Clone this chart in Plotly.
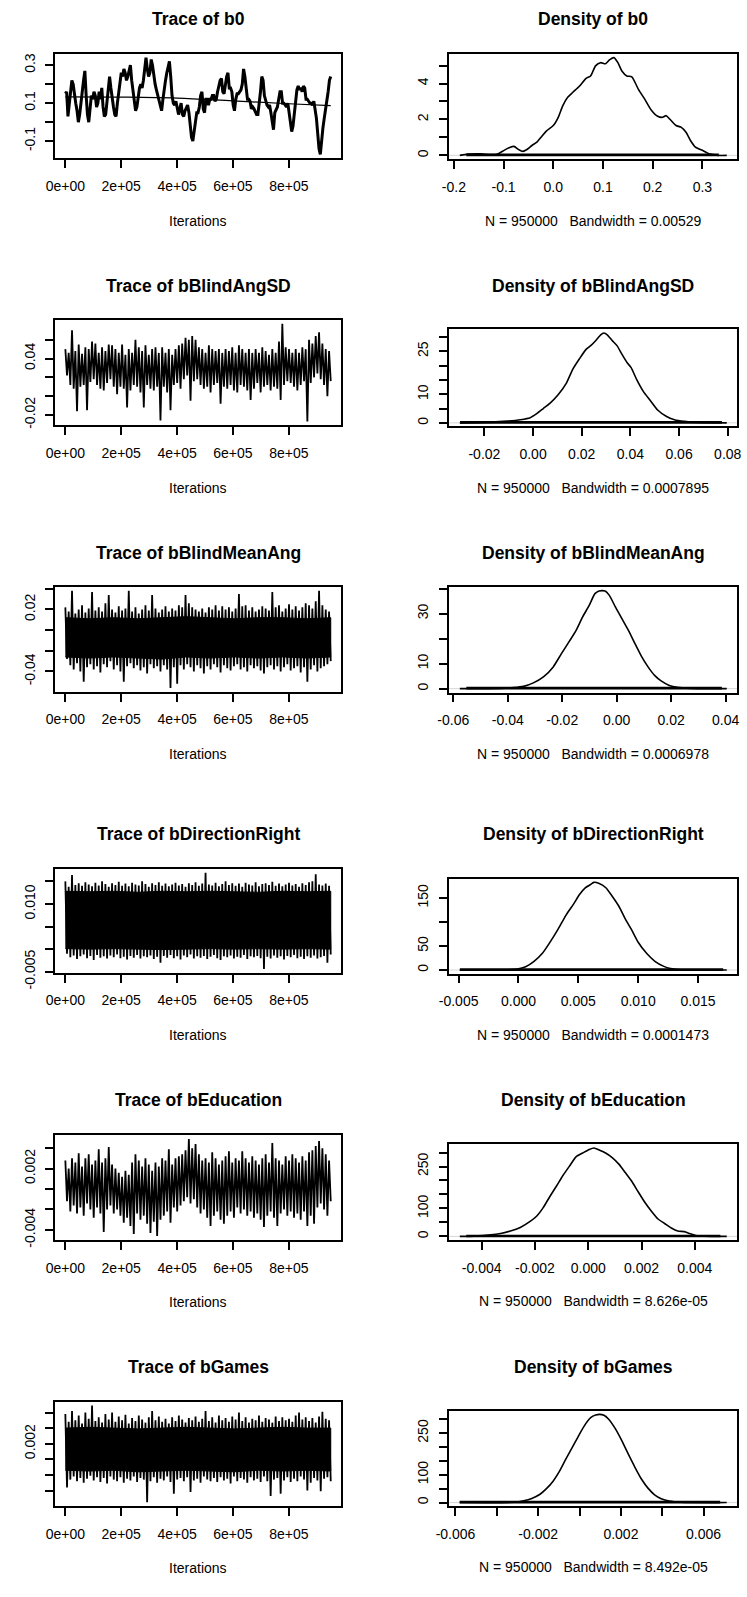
import numpy as np
import plotly.graph_objects as go

W, H = 747, 1597
N_ITER = 950000

params = ["b0", "bBlindAngSD", "bBlindMeanAng", "bDirectionRight", "bEducation", "bGames"]
bandwidths = ["0.00529", "0.0007895", "0.0006978", "0.0001473", "8.626e-05", "8.492e-05"]

# ---------------- trace data ----------------
b0_trace = [0.15, 0.16, 0.03, 0.10, 0.16, 0.22, 0.20, 0.14, 0.10, 0.06, 0.00, 0.04, 0.12, 0.16, 0.22, 0.27,
            0.14, 0.04, 0.00, 0.08, 0.14, 0.12, 0.16, 0.14, 0.08, 0.10, 0.16, 0.12, 0.18, 0.08, 0.03, 0.04,
            0.10, 0.18, 0.24, 0.18, 0.12, 0.08, 0.04, 0.03, 0.10, 0.16, 0.22, 0.26, 0.24, 0.28, 0.26, 0.22,
            0.24, 0.28, 0.30, 0.22, 0.16, 0.10, 0.06, 0.08, 0.14, 0.18, 0.20, 0.18, 0.22, 0.30, 0.34, 0.28,
            0.24, 0.26, 0.33, 0.30, 0.24, 0.20, 0.17, 0.14, 0.11, 0.08, 0.06, 0.12, 0.18, 0.22, 0.26, 0.30,
            0.32, 0.24, 0.14, 0.10, 0.09, 0.11, 0.08, 0.04, 0.07, 0.10, 0.04, 0.03, 0.06, 0.08, 0.09, 0.05,
            -0.02, -0.08, -0.10, -0.06, 0.00, 0.05, 0.05, 0.08, 0.14, 0.16, 0.07, 0.05, 0.12, 0.12, 0.09,
            0.12, 0.12, 0.14, 0.14, 0.11, 0.12, 0.16, 0.19, 0.22, 0.23, 0.16, 0.15, 0.20, 0.24, 0.26, 0.18,
            0.18, 0.16, 0.09, 0.06, 0.12, 0.15, 0.15, 0.16, 0.17, 0.20, 0.28, 0.24, 0.17, 0.12, 0.12, 0.11,
            0.07, 0.08, 0.07, 0.05, 0.04, 0.04, 0.09, 0.16, 0.24, 0.22, 0.14, 0.11, 0.09, 0.08, 0.09, 0.05,
            0.00, -0.04, 0.05, 0.07, 0.08, 0.12, 0.16, 0.16, 0.10, 0.10, 0.09, 0.08, 0.10, 0.05, -0.01,
            -0.05, -0.02, 0.05, 0.11, 0.17, 0.19, 0.17, 0.18, 0.16, 0.19, 0.18, 0.12, 0.12, 0.11, 0.10,
            0.10, 0.09, 0.11, 0.07, 0.02, -0.06, -0.14, -0.17, -0.09, -0.03, 0.02, 0.06, 0.10, 0.16, 0.22, 0.24]
b0_smooth_iter = [1, 200000, 400000, 600000, 800000, 950000]
b0_smooth = [0.133, 0.132, 0.127, 0.112, 0.097, 0.087]

sd_hi = [0.050, 0.046, 0.070, 0.048, 0.055, 0.045, 0.052, 0.050, 0.058, 0.056, 0.046, 0.052, 0.048, 0.055,
         0.054, 0.050, 0.046, 0.055, 0.044, 0.050, 0.046, 0.060, 0.052, 0.048, 0.054, 0.044, 0.050, 0.052,
         0.046, 0.052, 0.046, 0.050, 0.044, 0.050, 0.054, 0.056, 0.062, 0.060, 0.064, 0.060, 0.052, 0.050,
         0.046, 0.054, 0.050, 0.048, 0.050, 0.046, 0.050, 0.048, 0.052, 0.046, 0.054, 0.050, 0.046, 0.050,
         0.046, 0.050, 0.046, 0.052, 0.048, 0.044, 0.050, 0.046, 0.058, 0.077, 0.052, 0.050, 0.046, 0.050,
         0.046, 0.052, 0.050, 0.060, 0.056, 0.064, 0.068, 0.056, 0.050, 0.048]
sd_lo = [0.022, 0.012, 0.008, -0.016, 0.010, 0.012, -0.015, 0.015, 0.018, 0.012, 0.008, 0.006, 0.014, 0.018,
         0.010, 0.002, 0.010, 0.008, -0.012, 0.006, 0.012, 0.010, 0.004, -0.012, 0.012, 0.008, 0.006, 0.010,
         -0.026, 0.010, 0.004, -0.015, 0.012, 0.014, 0.008, 0.018, 0.022, -0.005, 0.016, 0.018, 0.012, 0.008,
         0.010, 0.004, 0.012, 0.014, -0.008, 0.010, 0.008, 0.012, 0.006, 0.004, 0.012, 0.010, 0.006, -0.004,
         0.008, 0.014, 0.004, 0.010, 0.012, 0.006, 0.010, 0.008, -0.004, 0.012, 0.016, 0.014, 0.010, 0.006,
         0.012, 0.016, -0.027, 0.014, 0.020, 0.024, 0.018, 0.012, 0.000, 0.016]

ma_hi = [0.022, 0.018, 0.038, 0.016, 0.020, 0.024, 0.017, 0.021, 0.037, 0.019, 0.022, 0.018, 0.026, 0.034,
         0.020, 0.017, 0.023, 0.019, 0.021, 0.038, 0.018, 0.022, 0.016, 0.020, 0.024, 0.019, 0.034, 0.021,
         0.017, 0.020, 0.023, 0.018, 0.021, 0.019, 0.024, 0.022, 0.034, 0.026, 0.022, 0.020, 0.018, 0.021,
         0.017, 0.022, 0.020, 0.024, 0.019, 0.023, 0.020, 0.022, 0.018, 0.021, 0.035, 0.023, 0.024, 0.019,
         0.022, 0.018, 0.020, 0.023, 0.021, 0.019, 0.037, 0.022, 0.024, 0.018, 0.021, 0.025, 0.020, 0.023,
         0.019, 0.022, 0.026, 0.024, 0.021, 0.028, 0.038, 0.024, 0.020, 0.018]
ma_lo = [-0.028, -0.034, -0.038, -0.032, -0.040, -0.050, -0.036, -0.033, -0.038, -0.035, -0.041, -0.033,
         -0.036, -0.030, -0.038, -0.034, -0.040, -0.050, -0.035, -0.032, -0.037, -0.034, -0.039, -0.036,
         -0.042, -0.033, -0.037, -0.035, -0.040, -0.034, -0.038, -0.056, -0.036, -0.052, -0.034, -0.038,
         -0.033, -0.036, -0.040, -0.034, -0.037, -0.042, -0.035, -0.038, -0.033, -0.036, -0.041, -0.034,
         -0.037, -0.039, -0.035, -0.033, -0.038, -0.036, -0.040, -0.034, -0.037, -0.035, -0.039, -0.042,
         -0.036, -0.034, -0.038, -0.035, -0.040, -0.036, -0.033, -0.039, -0.037, -0.035, -0.041, -0.036,
         -0.050, -0.038, -0.034, -0.040, -0.037, -0.035, -0.033, -0.030]
ma_core_hi = [0.012, 0.011, 0.012, 0.011, 0.012, 0.013, 0.012, 0.011, 0.012, 0.012, 0.011, 0.012]
ma_core_lo = [-0.026, -0.027, -0.026, -0.027, -0.028, -0.026, -0.027, -0.026, -0.027, -0.026, -0.027, -0.026]

dr_hi = [0.0150, 0.0138, 0.0164, 0.0142, 0.0146, 0.0140, 0.0148, 0.0143, 0.0139, 0.0147, 0.0141, 0.0150,
         0.0144, 0.0138, 0.0146, 0.0142, 0.0149, 0.0140, 0.0145, 0.0139, 0.0147, 0.0143, 0.0141, 0.0150,
         0.0144, 0.0138, 0.0146, 0.0142, 0.0148, 0.0140, 0.0145, 0.0139, 0.0143, 0.0147, 0.0141, 0.0144,
         0.0138, 0.0146, 0.0142, 0.0148, 0.0140, 0.0145, 0.0169, 0.0143, 0.0141, 0.0147, 0.0139, 0.0144,
         0.0150, 0.0142, 0.0146, 0.0140, 0.0145, 0.0138, 0.0147, 0.0143, 0.0141, 0.0148, 0.0139, 0.0144,
         0.0146, 0.0142, 0.0149, 0.0140, 0.0145, 0.0139, 0.0143, 0.0147, 0.0141, 0.0144, 0.0138, 0.0146,
         0.0142, 0.0148, 0.0150, 0.0166, 0.0143, 0.0141, 0.0145, 0.0140]
dr_lo = [-0.0010, -0.0018, -0.0014, -0.0022, -0.0016, -0.0012, -0.0020, -0.0015, -0.0024, -0.0013, -0.0019,
         -0.0016, -0.0021, -0.0014, -0.0018, -0.0012, -0.0020, -0.0017, -0.0023, -0.0015, -0.0019, -0.0013,
         -0.0021, -0.0016, -0.0018, -0.0014, -0.0022, -0.0017, -0.0030, -0.0015, -0.0019, -0.0013, -0.0020,
         -0.0016, -0.0023, -0.0014, -0.0018, -0.0012, -0.0021, -0.0016, -0.0019, -0.0015, -0.0022, -0.0017,
         -0.0013, -0.0020, -0.0024, -0.0016, -0.0018, -0.0014, -0.0021, -0.0017, -0.0019, -0.0013, -0.0022,
         -0.0016, -0.0018, -0.0015, -0.0020, -0.0044, -0.0017, -0.0021, -0.0014, -0.0019, -0.0016, -0.0023,
         -0.0015, -0.0018, -0.0013, -0.0020, -0.0017, -0.0022, -0.0016, -0.0019, -0.0014, -0.0021, -0.0018,
         -0.0015, -0.0030, -0.0012]
dr_core_hi = [0.0128, 0.0127, 0.0128, 0.0126, 0.0128, 0.0127, 0.0128, 0.0127, 0.0126, 0.0128, 0.0127, 0.0128]
dr_core_lo = [0.0001, 0.0000, 0.0001, 0.0000, -0.0001, 0.0000, 0.0001, 0.0000, 0.0001, 0.0000, 0.0001, 0.0000]

ed_hi = [0.0028, 0.0020, 0.0030, 0.0026, 0.0035, 0.0022, 0.0030, 0.0034, 0.0024, 0.0028, 0.0039, 0.0026,
         0.0030, 0.0041, 0.0024, 0.0020, 0.0016, 0.0012, 0.0018, 0.0014, 0.0026, 0.0034, 0.0028, 0.0022,
         0.0030, 0.0024, 0.0018, 0.0026, 0.0022, 0.0030, 0.0028, 0.0039, 0.0024, 0.0030, 0.0032, 0.0034,
         0.0038, 0.0049, 0.0040, 0.0044, 0.0034, 0.0028, 0.0030, 0.0026, 0.0036, 0.0030, 0.0024, 0.0028,
         0.0032, 0.0037, 0.0026, 0.0030, 0.0028, 0.0037, 0.0030, 0.0026, 0.0032, 0.0028, 0.0024, 0.0030,
         0.0034, 0.0026, 0.0045, 0.0030, 0.0028, 0.0024, 0.0032, 0.0028, 0.0034, 0.0030, 0.0026, 0.0032,
         0.0028, 0.0036, 0.0038, 0.0042, 0.0047, 0.0040, 0.0034, 0.0028]
ed_lo = [-0.0012, -0.0022, -0.0016, -0.0024, -0.0018, -0.0026, -0.0014, -0.0020, -0.0028, -0.0018, -0.0024,
         -0.0042, -0.0020, -0.0016, -0.0024, -0.0020, -0.0026, -0.0033, -0.0028, -0.0036, -0.0044, -0.0024,
         -0.0030, -0.0026, -0.0034, -0.0043, -0.0032, -0.0046, -0.0030, -0.0026, -0.0022, -0.0033, -0.0018,
         -0.0022, -0.0016, -0.0012, -0.0008, -0.0014, -0.0010, -0.0018, -0.0024, -0.0020, -0.0028, -0.0036,
         -0.0026, -0.0022, -0.0030, -0.0034, -0.0026, -0.0022, -0.0028, -0.0018, -0.0024, -0.0020, -0.0026,
         -0.0022, -0.0028, -0.0024, -0.0030, -0.0037, -0.0026, -0.0022, -0.0028, -0.0036, -0.0024, -0.0020,
         -0.0026, -0.0022, -0.0028, -0.0024, -0.0030, -0.0022, -0.0036, -0.0026, -0.0034, -0.0018, -0.0014,
         -0.0020, -0.0026, -0.0012]

ga_hi = [0.0058, 0.0048, 0.0062, 0.0050, 0.0056, 0.0046, 0.0060, 0.0052, 0.0069, 0.0049, 0.0054, 0.0047,
         0.0058, 0.0051, 0.0060, 0.0048, 0.0055, 0.0050, 0.0057, 0.0046, 0.0053, 0.0049, 0.0056, 0.0051,
         0.0047, 0.0054, 0.0062, 0.0050, 0.0055, 0.0048, 0.0052, 0.0046, 0.0054, 0.0049, 0.0056, 0.0051,
         0.0047, 0.0053, 0.0050, 0.0055, 0.0048, 0.0052, 0.0062, 0.0049, 0.0054, 0.0047, 0.0056, 0.0050,
         0.0053, 0.0048, 0.0055, 0.0051, 0.0060, 0.0049, 0.0054, 0.0047, 0.0052, 0.0050, 0.0056, 0.0048,
         0.0053, 0.0051, 0.0047, 0.0055, 0.0049, 0.0054, 0.0050, 0.0052, 0.0048, 0.0056, 0.0060, 0.0051,
         0.0054, 0.0049, 0.0053, 0.0047, 0.0055, 0.0061, 0.0052, 0.0050]
ga_lo = [-0.0036, -0.0026, -0.0022, -0.0028, -0.0024, -0.0030, -0.0025, -0.0021, -0.0027, -0.0023, -0.0029,
         -0.0024, -0.0031, -0.0022, -0.0026, -0.0028, -0.0023, -0.0030, -0.0025, -0.0027, -0.0022, -0.0029,
         -0.0024, -0.0026, -0.0055, -0.0028, -0.0023, -0.0030, -0.0025, -0.0027, -0.0022, -0.0029, -0.0044,
         -0.0026, -0.0024, -0.0028, -0.0023, -0.0042, -0.0027, -0.0025, -0.0030, -0.0022, -0.0026, -0.0028,
         -0.0024, -0.0029, -0.0023, -0.0027, -0.0025, -0.0031, -0.0022, -0.0028, -0.0024, -0.0026, -0.0030,
         -0.0023, -0.0027, -0.0025, -0.0029, -0.0022, -0.0028, -0.0047, -0.0026, -0.0024, -0.0044, -0.0027,
         -0.0023, -0.0029, -0.0025, -0.0028, -0.0022, -0.0026, -0.0040, -0.0030, -0.0024, -0.0027, -0.0041,
         -0.0025, -0.0023, -0.0028]
ga_core_hi = [0.0040, 0.0041, 0.0040, 0.0039, 0.0040, 0.0041, 0.0040, 0.0039, 0.0040, 0.0041, 0.0040, 0.0040]
ga_core_lo = [-0.0014, -0.0015, -0.0014, -0.0016, -0.0015, -0.0014, -0.0015, -0.0016, -0.0014, -0.0015, -0.0014, -0.0015]

# ---------------- density data ----------------
d1_x = [-0.188, -0.172, -0.145, -0.126, -0.112, -0.099, -0.089, -0.079, -0.070, -0.061, -0.053, -0.043, -0.033,
        -0.023, -0.014, 0.000, 0.010, 0.019, 0.029, 0.039, 0.052, 0.066, 0.075, 0.085, 0.095, 0.105, 0.113,
        0.122, 0.130, 0.138, 0.148, 0.158, 0.171, 0.184, 0.197, 0.210, 0.220, 0.227, 0.237, 0.247, 0.257,
        0.267, 0.276, 0.286, 0.300, 0.313, 0.323, 0.332, 0.349]
d1_y = [0.0, 0.07, 0.09, 0.04, 0.07, 0.28, 0.42, 0.50, 0.33, 0.22, 0.33, 0.55, 0.74, 1.07, 1.35, 1.66, 2.12,
        2.76, 3.23, 3.50, 3.83, 4.29, 4.42, 4.98, 5.16, 5.10, 5.31, 5.44, 5.16, 4.70, 4.42, 4.37, 3.69, 3.13,
        2.53, 2.18, 2.12, 2.21, 1.94, 1.66, 1.57, 1.29, 0.83, 0.46, 0.28, 0.09, 0.04, 0.0, 0.0]
d2_x = [-0.0301, -0.0200, -0.0106, -0.0052, -0.0012, 0.0015, 0.0042, 0.0069, 0.0103, 0.0137, 0.0163, 0.0190,
        0.0217, 0.0237, 0.0258, 0.0278, 0.0291, 0.0305, 0.0325, 0.0345, 0.0365, 0.0386, 0.0403, 0.0426, 0.0453,
        0.0480, 0.0513, 0.0547, 0.0581, 0.0621, 0.0675, 0.0796]
d2_y = [0.0, 0.1, 0.6, 1.1, 1.8, 3.2, 5.0, 6.8, 9.8, 13.9, 18.7, 22.3, 25.6, 27.0, 28.8, 30.8, 31.4, 30.8, 28.8,
        27.0, 24.0, 21.1, 19.3, 15.1, 11.0, 8.0, 4.4, 2.3, 1.1, 0.5, 0.1, 0.0]
d3_x = [-0.0576, -0.0426, -0.0378, -0.0342, -0.0306, -0.0269, -0.0233, -0.0203, -0.0173, -0.0149, -0.0125,
        -0.0101, -0.0080, -0.0065, -0.0043, -0.0027, -0.0005, 0.0019, 0.0043, 0.0067, 0.0091, 0.0115, 0.0139,
        0.0163, 0.0193, 0.0223, 0.0271, 0.0404]
d3_y = [0.0, 0.1, 0.4, 0.9, 2.3, 4.7, 8.7, 14.0, 19.1, 23.3, 28.7, 33.3, 38.0, 39.1, 39.1, 37.3, 32.7, 28.0,
        23.3, 18.0, 12.9, 8.7, 5.3, 3.1, 1.3, 0.5, 0.1, 0.0]
d4_x = [-0.0049, -0.0009, -0.0001, 0.0006, 0.0013, 0.0020, 0.0026, 0.0033, 0.0040, 0.0046, 0.0051, 0.0056,
        0.0061, 0.0063, 0.0067, 0.0073, 0.0078, 0.0084, 0.0089, 0.0095, 0.0100, 0.0107, 0.0114, 0.0121, 0.0127,
        0.0136, 0.0174]
d4_y = [0.0, 0.6, 1.9, 6.8, 18.0, 34.8, 56.5, 84.5, 115.5, 137.3, 157.1, 171.4, 179.5, 182.6, 180.7, 171.4,
        154.7, 132.3, 107.5, 81.4, 57.8, 34.8, 18.0, 8.1, 3.1, 0.6, 0.0]
d5_x = [-0.00482, -0.00427, -0.00366, -0.00329, -0.00292, -0.00255, -0.00218, -0.00193, -0.00169, -0.00144,
        -0.00119, -0.00095, -0.00070, -0.00045, -0.00021, 0.00004, 0.00022, 0.00041, 0.00065, 0.00090, 0.00115,
        0.00139, 0.00164, 0.00188, 0.00213, 0.00238, 0.00262, 0.00287, 0.00312, 0.00336, 0.00361, 0.00379,
        0.00404, 0.00435, 0.00520]
d5_y = [0.0, 1.0, 5.4, 10.7, 19.3, 32.2, 53.6, 73.0, 103.0, 142.7, 180.3, 217.8, 252.1, 285.4, 298.3, 311.2,
        316.5, 309.0, 298.3, 282.2, 258.6, 228.5, 196.4, 158.8, 121.2, 89.1, 62.2, 46.1, 30.0, 19.3, 17.2,
        10.7, 3.2, 1.0, 0.0]
d6_x = [-0.00579, -0.00318, -0.00270, -0.00231, -0.00191, -0.00160, -0.00128, -0.00096, -0.00065, -0.00033,
        -0.00002, 0.00030, 0.00054, 0.00078, 0.00097, 0.00118, 0.00141, 0.00173, 0.00205, 0.00236, 0.00268,
        0.00300, 0.00331, 0.00363, 0.00395, 0.00434, 0.00490, 0.00712]
d6_y = [0.0, 1.0, 6.5, 15.0, 30.0, 50.0, 77.0, 114.0, 158.0, 201.0, 244.0, 284.0, 306.0, 315.0, 317.5, 314.0,
        300.0, 266.0, 222.0, 174.0, 127.0, 84.0, 52.0, 28.0, 14.0, 5.4, 1.0, 0.0]
rug_min = [-0.175, -0.030, -0.0552, -0.0049, -0.00458, -0.0058]
rug_max = [0.333, 0.0776, 0.0386, 0.0171, 0.00496, 0.0068]

dens_x = [d1_x, d2_x, d3_x, d4_x, d5_x, d6_x]
dens_y = [d1_y, d2_y, d3_y, d4_y, d5_y, d6_y]
trace_hilo = [None, (sd_hi, sd_lo), (ma_hi, ma_lo), (dr_hi, dr_lo), (ed_hi, ed_lo), (ga_hi, ga_lo)]
trace_core = [None, None, (ma_core_hi, ma_core_lo), (dr_core_hi, dr_core_lo), None, (ga_core_hi, ga_core_lo)]

# ---------------- tick definitions ----------------
iter_ticks = [0, 200000, 400000, 600000, 800000]
iter_labels = ["0e+00", "2e+05", "4e+05", "6e+05", "8e+05"]
trace_yticks = [[-0.1, 0, 0.1, 0.2, 0.3], [-0.02, 0, 0.02, 0.04, 0.06], [-0.04, -0.02, 0, 0.02, 0.04],
                [-0.005, 0, 0.005, 0.01, 0.015], [-0.004, -0.002, 0, 0.002, 0.004],
                [-0.006, -0.004, -0.002, 0, 0.002, 0.004, 0.006]]
trace_ylabels = [["-0.1", "", "0.1", "", "0.3"], ["-0.02", "", "", "0.04", ""], ["-0.04", "", "", "0.02", ""],
                 ["-0.005", "", "", "0.010", ""], ["-0.004", "", "", "0.002", ""],
                 ["-0.006", "", "", "", "0.002", "", ""]]
dens_yticks = [[0, 1, 2, 3, 4, 5], [0, 5, 10, 15, 20, 25, 30], [0, 10, 20, 30, 40], [0, 50, 100, 150],
               [0, 50, 100, 150, 200, 250, 300], [0, 50, 100, 150, 200, 250, 300]]
dens_ylabels = [["0", "", "2", "", "4", ""], ["0", "", "10", "", "", "25", ""], ["0", "10", "", "30", ""],
                ["0", "50", "", "150"], ["0", "", "100", "", "", "250", ""], ["0", "", "100", "", "", "250", ""]]
dens_xticks = [[-0.2, -0.1, 0, 0.1, 0.2, 0.3], [-0.02, 0, 0.02, 0.04, 0.06, 0.08],
               [-0.06, -0.04, -0.02, 0, 0.02, 0.04], [-0.005, 0, 0.005, 0.01, 0.015],
               [-0.004, -0.002, 0, 0.002, 0.004], [-0.006, -0.004, -0.002, 0, 0.002, 0.004, 0.006]]
dens_xlabels = [["-0.2", "-0.1", "0.0", "0.1", "0.2", "0.3"], ["-0.02", "0.00", "0.02", "0.04", "0.06", "0.08"],
                ["-0.06", "-0.04", "-0.02", "0.00", "0.02", "0.04"], ["-0.005", "0.000", "0.005", "0.010", "0.015"],
                ["-0.004", "-0.002", "0.000", "0.002", "0.004"], ["-0.006", "", "-0.002", "", "0.002", "", "0.006"]]

# ---------------- layout geometry (pixels) ----------------
TRACE_X = (42.7, 336.0)
DENS_X = (446.3, 741.3)
trace_box = [(54.3, 160), (323.3, 430), (593.3, 699.3), (878.3, 983.3), (1147.3, 1253.3), (1416.7, 1522.3)]
dens_box = [(54.3, 161), (333, 431), (593.3, 700), (888.3, 984), (1156.7, 1253.3), (1426, 1522.3)]
title_y = [19, 289, 559, 843, 1112, 1382]
trace_width = [3.0, 1.8, 1.8, 1.8, 1.8, 1.8]

FONT = "Liberation Sans, Arial, Helvetica, sans-serif"


def ext(lo, hi):
    s = hi - lo
    return [lo - 0.04 * s, hi + 0.04 * s]


def fx(px):
    return px / W


def fy(py):
    return 1 - py / H


fig = go.Figure()
layout = dict(width=W, height=H, margin=dict(l=0, r=0, t=0, b=0), paper_bgcolor="white",
              plot_bgcolor="white", showlegend=False, font=dict(family=FONT, color="black", size=14))
annotations = []

axis_common = dict(showgrid=False, zeroline=False, showline=True, mirror=True, linecolor="black",
                   linewidth=1.5, ticks="outside", ticklen=8, tickwidth=1.5, tickcolor="black",
                   tickfont=dict(family=FONT, size=14, color="black"), fixedrange=True)

for r in range(6):
    kt = 2 * r + 1
    kd = 2 * r + 2
    # ---- trace panel ----
    xa, ya = "x%d" % kt, "y%d" % kt
    if r == 0:
        xs = np.linspace(1, N_ITER, len(b0_trace))
        fig.add_trace(go.Scatter(x=xs, y=b0_trace, mode="lines", line=dict(color="black", width=trace_width[r]),
                                 xaxis=xa, yaxis=ya, hoverinfo="skip"))
        fig.add_trace(go.Scatter(x=b0_smooth_iter, y=b0_smooth, mode="lines", line=dict(color="black", width=1.2,
                                 shape="spline"), xaxis=xa, yaxis=ya, hoverinfo="skip"))
        ylo, yhi = min(b0_trace), max(b0_trace)
    else:
        if trace_core[r] is not None:
            chi, clo = trace_core[r]
            cx_ = list(np.linspace(1, N_ITER, len(chi)))
            fig.add_trace(go.Scatter(x=cx_ + cx_[::-1], y=list(chi) + list(clo)[::-1], mode="lines",
                                     fill="toself", fillcolor="black", line=dict(color="black", width=1),
                                     xaxis=xa, yaxis=ya, hoverinfo="skip"))
        hi, lo = trace_hilo[r]
        n = len(hi)
        xs = np.linspace(1, N_ITER, 2 * n)
        ys = []
        for a, b in zip(hi, lo):
            ys += [a, b]
        fig.add_trace(go.Scatter(x=xs, y=ys, mode="lines", line=dict(color="black", width=trace_width[r]),
                                 xaxis=xa, yaxis=ya, hoverinfo="skip"))
        ylo, yhi = min(lo), max(hi)
    tb = trace_box[r]
    layout["xaxis%d" % kt] = dict(axis_common, domain=[fx(TRACE_X[0]), fx(TRACE_X[1])], anchor=ya,
                                  range=ext(1, N_ITER), tickmode="array", tickvals=iter_ticks,
                                  ticktext=iter_labels, ticklabelstandoff=6)
    layout["yaxis%d" % kt] = dict(axis_common, domain=[fy(tb[1]), fy(tb[0])], anchor=xa,
                                  range=ext(ylo, yhi), tickmode="array", tickvals=trace_yticks[r],
                                  ticktext=trace_ylabels[r], tickangle=-90, ticklabelstandoff=4)
    cx = (TRACE_X[0] + TRACE_X[1]) / 2
    annotations.append(dict(text="<b>Trace of %s</b>" % params[r], x=fx(cx), y=fy(title_y[r]), xref="paper",
                            yref="paper", xanchor="center", yanchor="middle", showarrow=False,
                            font=dict(family=FONT, size=17.5, color="black")))
    annotations.append(dict(text="Iterations", x=fx(cx), y=fy(tb[1] + 63), xref="paper", yref="paper",
                            xanchor="center", yanchor="middle", showarrow=False,
                            font=dict(family=FONT, size=14, color="black")))

    # ---- density panel ----
    xa, ya = "x%d" % kd, "y%d" % kd
    dx, dy = dens_x[r], dens_y[r]
    xr = ext(min(dx), max(dx))
    ymax = max(dy)
    fig.add_trace(go.Scatter(x=xr, y=[0, 0], mode="lines", line=dict(color="#bebebe", width=0.6),
                             xaxis=xa, yaxis=ya, hoverinfo="skip"))
    fig.add_trace(go.Scatter(x=[rug_min[r], rug_max[r]], y=[ymax * 0.005, ymax * 0.005], mode="lines",
                             line=dict(color="black", width=2.6), xaxis=xa, yaxis=ya, hoverinfo="skip"))
    fig.add_trace(go.Scatter(x=dx, y=dy, mode="lines", line=dict(color="black", width=1.6, shape="spline",
                             smoothing=0.6), xaxis=xa, yaxis=ya, hoverinfo="skip"))
    db = dens_box[r]
    layout["xaxis%d" % kd] = dict(axis_common, domain=[fx(DENS_X[0]), fx(DENS_X[1])], anchor=ya,
                                  range=xr, tickmode="array", tickvals=dens_xticks[r],
                                  ticktext=dens_xlabels[r], ticklabelstandoff=6)
    layout["yaxis%d" % kd] = dict(axis_common, domain=[fy(db[1]), fy(db[0])], anchor=xa,
                                  range=ext(0, ymax), tickmode="array", tickvals=dens_yticks[r],
                                  ticktext=dens_ylabels[r], tickangle=-90, ticklabelstandoff=6)
    cx = (DENS_X[0] + DENS_X[1]) / 2
    annotations.append(dict(text="<b>Density of %s</b>" % params[r], x=fx(cx), y=fy(title_y[r]), xref="paper",
                            yref="paper", xanchor="center", yanchor="middle", showarrow=False,
                            font=dict(family=FONT, size=17.5, color="black")))
    annotations.append(dict(text="N = 950000\u00a0\u00a0\u00a0Bandwidth = %s" % bandwidths[r], x=fx(cx),
                            y=fy(db[1] + 62), xref="paper", yref="paper", xanchor="center", yanchor="middle",
                            showarrow=False, font=dict(family=FONT, size=14, color="black")))

layout["annotations"] = annotations
fig.update_layout(**layout)
fig.write_html("out.html")
